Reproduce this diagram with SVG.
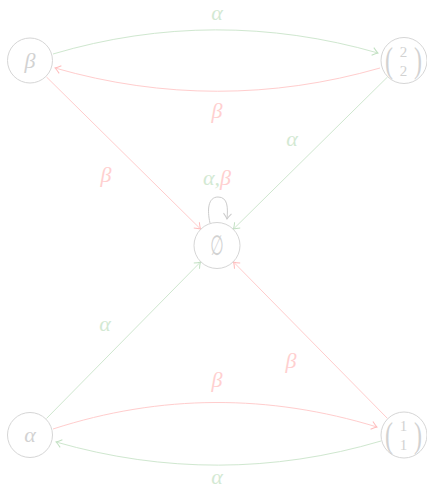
<svg xmlns="http://www.w3.org/2000/svg" width="427" height="489" viewBox="0 0 427 489">
  <style>
    .node circle { fill: none; stroke: #d6d6d6; stroke-width: 1; }
    .node text { fill: #d2d2d2; font-family: "Liberation Serif", serif; text-anchor: middle; }
    .sym { font-style: italic; font-size: 22px; }
    .digit { font-size: 15px; }
    .paren { font-size: 24px; }
    .edge { fill: none; stroke-width: 1; }
    .g { stroke: #cfe7cf; }
    .r { stroke: #ffcdcd; }
    .lbl { font-family: "Liberation Serif", serif; font-style: italic; font-size: 22px; text-anchor: middle; }
    .lg { fill: #d3e9d3; }
    .lr { fill: #ffd0d0; }
  </style>
  <defs>
    <marker id="ag" viewBox="-7 -5 9 10" markerWidth="9" markerHeight="10" refX="0" refY="0" orient="auto" markerUnits="userSpaceOnUse">
      <path d="M -5.5,-4 Q -2,-1 0,0 Q -2,1 -5.5,4" fill="none" stroke="#c2e0c2" stroke-width="1"/>
    </marker>
    <marker id="ar" viewBox="-7 -5 9 10" markerWidth="9" markerHeight="10" refX="0" refY="0" orient="auto" markerUnits="userSpaceOnUse">
      <path d="M -5.5,-4 Q -2,-1 0,0 Q -2,1 -5.5,4" fill="none" stroke="#ffbcbc" stroke-width="1"/>
    </marker>
    <marker id="an" viewBox="-7 -5 9 10" markerWidth="9" markerHeight="10" refX="0" refY="0" orient="auto" markerUnits="userSpaceOnUse">
      <path d="M -5.5,-4 Q -2,-1 0,0 Q -2,1 -5.5,4" fill="none" stroke="#cccccc" stroke-width="1"/>
    </marker>
  </defs>

  <!-- transitions -->
  <g id="edges">
    <path class="edge g" d="M 53,54 C 161,22 270,22 378,53" marker-end="url(#ag)"/>
    <path class="edge r" d="M 380,68 C 272,99 163,99 55,68" marker-end="url(#ar)"/>
    <path class="edge r" d="M 46.5,77 L 200.5,229" marker-end="url(#ar)"/>
    <path class="edge g" d="M 387.5,77 L 233.5,229" marker-end="url(#ag)"/>
    <path class="edge g" d="M 46.5,418.5 L 200.5,262" marker-end="url(#ag)"/>
    <path class="edge r" d="M 387.5,418.5 L 233.5,262" marker-end="url(#ar)"/>
    <path class="edge r" d="M 53,429 C 161,394 269,394 377,427" marker-end="url(#ar)"/>
    <path class="edge g" d="M 381,441 C 273,473 164,473 56,442" marker-end="url(#ag)"/>
    <path class="edge" stroke="#cccccc" d="M 210,223 C 207,210 208,197 218,197 C 228,197 228,208 227,219" marker-end="url(#an)"/>

    <text class="lbl lg" x="217" y="20">α</text>
    <text class="lbl lr" x="217" y="118">β</text>
    <text class="lbl lr" x="106" y="182">β</text>
    <text class="lbl lg" x="292" y="146">α</text>
    <text x="217" y="185" class="lbl"><tspan class="lg">α,</tspan><tspan class="lr">β</tspan></text>
    <text class="lbl lg" x="105" y="331">α</text>
    <text class="lbl lr" x="291" y="368">β</text>
    <text class="lbl lr" x="217" y="387">β</text>
    <text class="lbl lg" x="217" y="484">α</text>
  </g>

  <g id="n-beta" class="node">
    <circle cx="30" cy="60.5" r="22.5"/>
    <text class="sym" x="30" y="68">β</text>
  </g>

  <g id="n-22" class="node">
    <circle cx="404" cy="60.5" r="23"/>
    <g transform="translate(0 60.5) scale(1 1.5) translate(0 -60.5)">
      <text class="paren" x="389" y="68.5">(</text>
      <text class="paren" x="418" y="68.5">)</text>
    </g>
    <text class="digit" x="403.5" y="57">2</text>
    <text class="digit" x="403.5" y="76">2</text>
  </g>

  <g id="n-empty" class="node">
    <circle cx="217" cy="245.5" r="23"/>
    <text x="217" y="255" font-size="28" transform="translate(217 0) scale(0.55 1) translate(-217 0)" style="font-family:'DejaVu Sans',sans-serif">∅</text>
  </g>

  <g id="n-alpha" class="node">
    <circle cx="30" cy="435" r="22.5"/>
    <text class="sym" x="30" y="442">α</text>
  </g>

  <g id="n-11" class="node">
    <circle cx="404" cy="435" r="23"/>
    <g transform="translate(0 435) scale(1 1.5) translate(0 -435)">
      <text class="paren" x="389" y="443">(</text>
      <text class="paren" x="418" y="443">)</text>
    </g>
    <text class="digit" x="403.5" y="431">1</text>
    <text class="digit" x="403.5" y="450">1</text>
  </g>
</svg>
